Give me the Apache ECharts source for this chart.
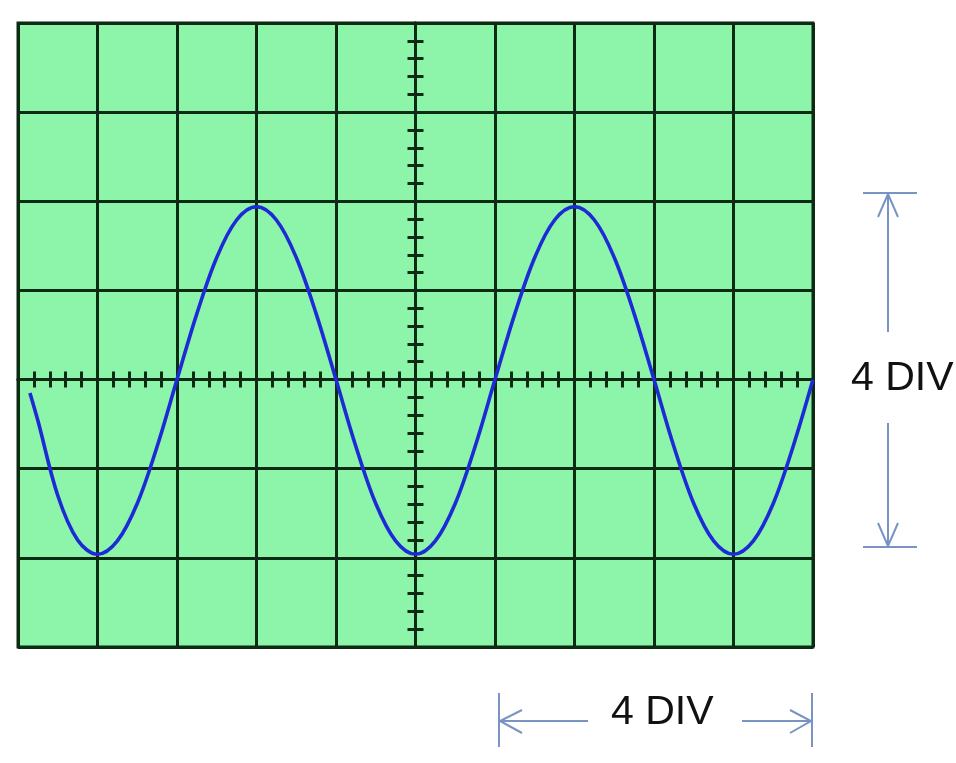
<!DOCTYPE html>
<html>
<head>
<meta charset="utf-8">
<script src="https://cdn.jsdelivr.net/npm/echarts@6/dist/echarts.min.js"></script>
<style>
html,body{margin:0;padding:0;background:#fff;}
#chart{width:956px;height:763px;}
</style>
</head>
<body>
<div id="chart"></div>
<script>
// Time axis in divisions (centre = 0), voltage axis in divisions (centre = 0)
const xDivMin = -5, xDivMax = 5;
const yDivMin = -3, yDivMax = 4;
// Trace samples (x in div, y in div)
const traceX = [-4.85, -4.75, -4.5, -4.25, -4.0, -3.75, -3.5, -3.25, -3.0, -2.75, -2.5, -2.25, -2.0,
  -1.75, -1.5, -1.25, -1.0, -0.75, -0.5, -0.25, 0.0, 0.25, 0.5, 0.75, 1.0, 1.25, 1.5, 1.75, 2.0,
  2.25, 2.5, 2.75, 3.0, 3.25, 3.5, 3.75, 4.0, 4.25, 4.5, 4.75, 5.0];
const traceY = [-0.15, -0.46, -1.30, -1.80, -1.96, -1.81, -1.39, -0.75, 0.0, 0.74, 1.37, 1.79, 1.94,
  1.79, 1.37, 0.74, 0.0, -0.75, -1.39, -1.81, -1.96, -1.81, -1.39, -0.75, 0.0, 0.74, 1.37, 1.79, 1.94,
  1.79, 1.37, 0.74, 0.0, -0.75, -1.39, -1.81, -1.96, -1.81, -1.39, -0.75, 0.0];
const annotationText = '4 DIV';

const gridColor = '#0d2a12';
const arrowColor = '#7893c4';

const chart = echarts.init(document.getElementById('chart'), null, {renderer: 'canvas'});

function tickAxis(extra) {
  return Object.assign({
    type: 'value',
    interval: 1,
    axisLine: {show: true, onZero: true, lineStyle: {color: gridColor, width: 3}},
    axisTick: {show: true, inside: false, length: 8, lineStyle: {color: gridColor, width: 3}},
    minorTick: {show: true, splitNumber: 5, length: 8, lineStyle: {color: gridColor, width: 3}},
    axisLabel: {show: false},
    splitLine: {show: false},
    minorSplitLine: {show: false}
  }, extra);
}

const points = traceX.map((x, i) => [x, traceY[i]]);
const textStyle = {fill: '#111111', fontSize: 41, fontFamily: 'Liberation Sans'};

chart.setOption({
  animation: false,
  backgroundColor: '#ffffff',
  grid: {
    left: 18, top: 23, width: 795, height: 624,
    show: true, backgroundColor: '#8cf5aa',
    borderColor: gridColor, borderWidth: 3,
    containLabel: false
  },
  xAxis: [
    tickAxis({min: xDivMin, max: xDivMax, position: 'bottom',
      splitLine: {show: true, lineStyle: {color: gridColor, width: 3}}}),
    tickAxis({min: xDivMin, max: xDivMax, position: 'top'})
  ],
  yAxis: [
    tickAxis({min: yDivMin, max: yDivMax, position: 'left',
      splitLine: {show: true, lineStyle: {color: gridColor, width: 3}}}),
    tickAxis({min: yDivMin, max: yDivMax, position: 'right'})
  ],
  series: [{
    type: 'line',
    xAxisIndex: 0, yAxisIndex: 0,
    data: points,
    smooth: 0.35,
    showSymbol: false,
    symbol: 'none',
    clip: false,
    lineStyle: {color: '#1e2ad6', width: 3.6}
  }],
  graphic: [
    // vertical 4 DIV marker
    {type: 'line', shape: {x1: 863, y1: 193, x2: 917, y2: 193}, style: {stroke: arrowColor, lineWidth: 2}},
    {type: 'line', shape: {x1: 863, y1: 547, x2: 917, y2: 547}, style: {stroke: arrowColor, lineWidth: 2}},
    {type: 'line', shape: {x1: 888, y1: 193, x2: 888, y2: 332}, style: {stroke: arrowColor, lineWidth: 2}},
    {type: 'line', shape: {x1: 888, y1: 423, x2: 888, y2: 547}, style: {stroke: arrowColor, lineWidth: 2}},
    {type: 'polyline', shape: {points: [[878, 217], [888, 194], [898, 217]]}, style: {stroke: arrowColor, lineWidth: 2, fill: null}},
    {type: 'polyline', shape: {points: [[878, 523], [888, 546], [898, 523]]}, style: {stroke: arrowColor, lineWidth: 2, fill: null}},
    {type: 'text', left: 851, top: 358, style: Object.assign({text: annotationText}, textStyle)},
    // horizontal 4 DIV marker
    {type: 'line', shape: {x1: 499, y1: 693, x2: 499, y2: 747}, style: {stroke: arrowColor, lineWidth: 2}},
    {type: 'line', shape: {x1: 812, y1: 693, x2: 812, y2: 747}, style: {stroke: arrowColor, lineWidth: 2}},
    {type: 'line', shape: {x1: 499, y1: 721, x2: 588, y2: 721}, style: {stroke: arrowColor, lineWidth: 2}},
    {type: 'line', shape: {x1: 742, y1: 721, x2: 812, y2: 721}, style: {stroke: arrowColor, lineWidth: 2}},
    {type: 'polyline', shape: {points: [[522, 710], [500, 721], [522, 733]]}, style: {stroke: arrowColor, lineWidth: 2, fill: null}},
    {type: 'polyline', shape: {points: [[790, 710], [811, 721], [790, 733]]}, style: {stroke: arrowColor, lineWidth: 2, fill: null}},
    {type: 'text', left: 611, top: 692, style: Object.assign({text: annotationText}, textStyle)}
  ]
});
</script>
</body>
</html>
